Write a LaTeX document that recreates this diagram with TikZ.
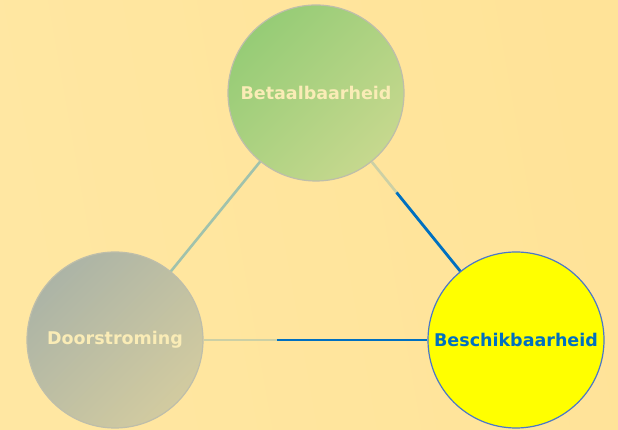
\documentclass[tikz,border=0pt]{standalone}
\usepackage{fontspec}
\setmainfont{DejaVu Sans}
\usepackage{tikz}
\definecolor{bgwarm}{RGB}{255, 231, 162}
\definecolor{bgdeep}{RGB}{255, 227, 152}
\definecolor{leafgreen}{RGB}{150, 204, 118}
\definecolor{palegreen}{RGB}{198, 216, 142}
\definecolor{slategray}{RGB}{172, 180, 166}
\definecolor{sandgray}{RGB}{210, 203, 160}
\definecolor{creamtext}{RGB}{250, 236, 182}
\definecolor{ringgray}{RGB}{190, 190, 170}
\definecolor{mainblue}{RGB}{0, 112, 192}
\definecolor{ringblue}{RGB}{75, 120, 200}
\definecolor{sagegray}{RGB}{160, 194, 172}
\definecolor{fadegray}{RGB}{204, 208, 165}
\definecolor{pureyellow}{RGB}{255, 255, 0}

\begin{document}
\begin{tikzpicture}[x=1pt, y=1pt,
    topic/.style={circle, minimum size=176pt, inner sep=0pt, draw=ringgray,
                  line width=1.2pt, font=\fontsize{17.5}{20}\selectfont\bfseries,
                  text=creamtext},
    link/.style={line width=2.6pt},
    hotlink/.style={draw=mainblue, line width=2.8pt}
]
    % background
    \shade[left color=bgwarm, right color=bgdeep, shading angle=100]
        (0,0) rectangle (618,430);
    \useasboundingbox (0,0) rectangle (618,430);

    % Betaalbaarheid
    \node[topic, top color=leafgreen, bottom color=palegreen, shading angle=45]
        (betaal) at (316,337) {Betaalbaarheid};

    % Doorstroming
    \node[topic, top color=slategray, bottom color=sandgray, shading angle=45]
        (door) at (115,90) {Doorstroming};

    % Beschikbaarheid
    \node[topic, fill=pureyellow, draw=ringblue, text=mainblue]
        (beschik) at (516,90) {Beschikbaarheid};

    % Relations
    \draw[link, draw=sagegray] (betaal) -- (door);
    \draw[link, draw=fadegray] (betaal) -- (beschik) coordinate[pos=0.28] (bsplit);
    \draw[hotlink] (bsplit) -- (beschik);
    \draw[link, draw=fadegray] (door) -- (beschik) coordinate[pos=0.33] (dsplit);
    \draw[hotlink] (dsplit) -- (beschik);
\end{tikzpicture}
\end{document}
